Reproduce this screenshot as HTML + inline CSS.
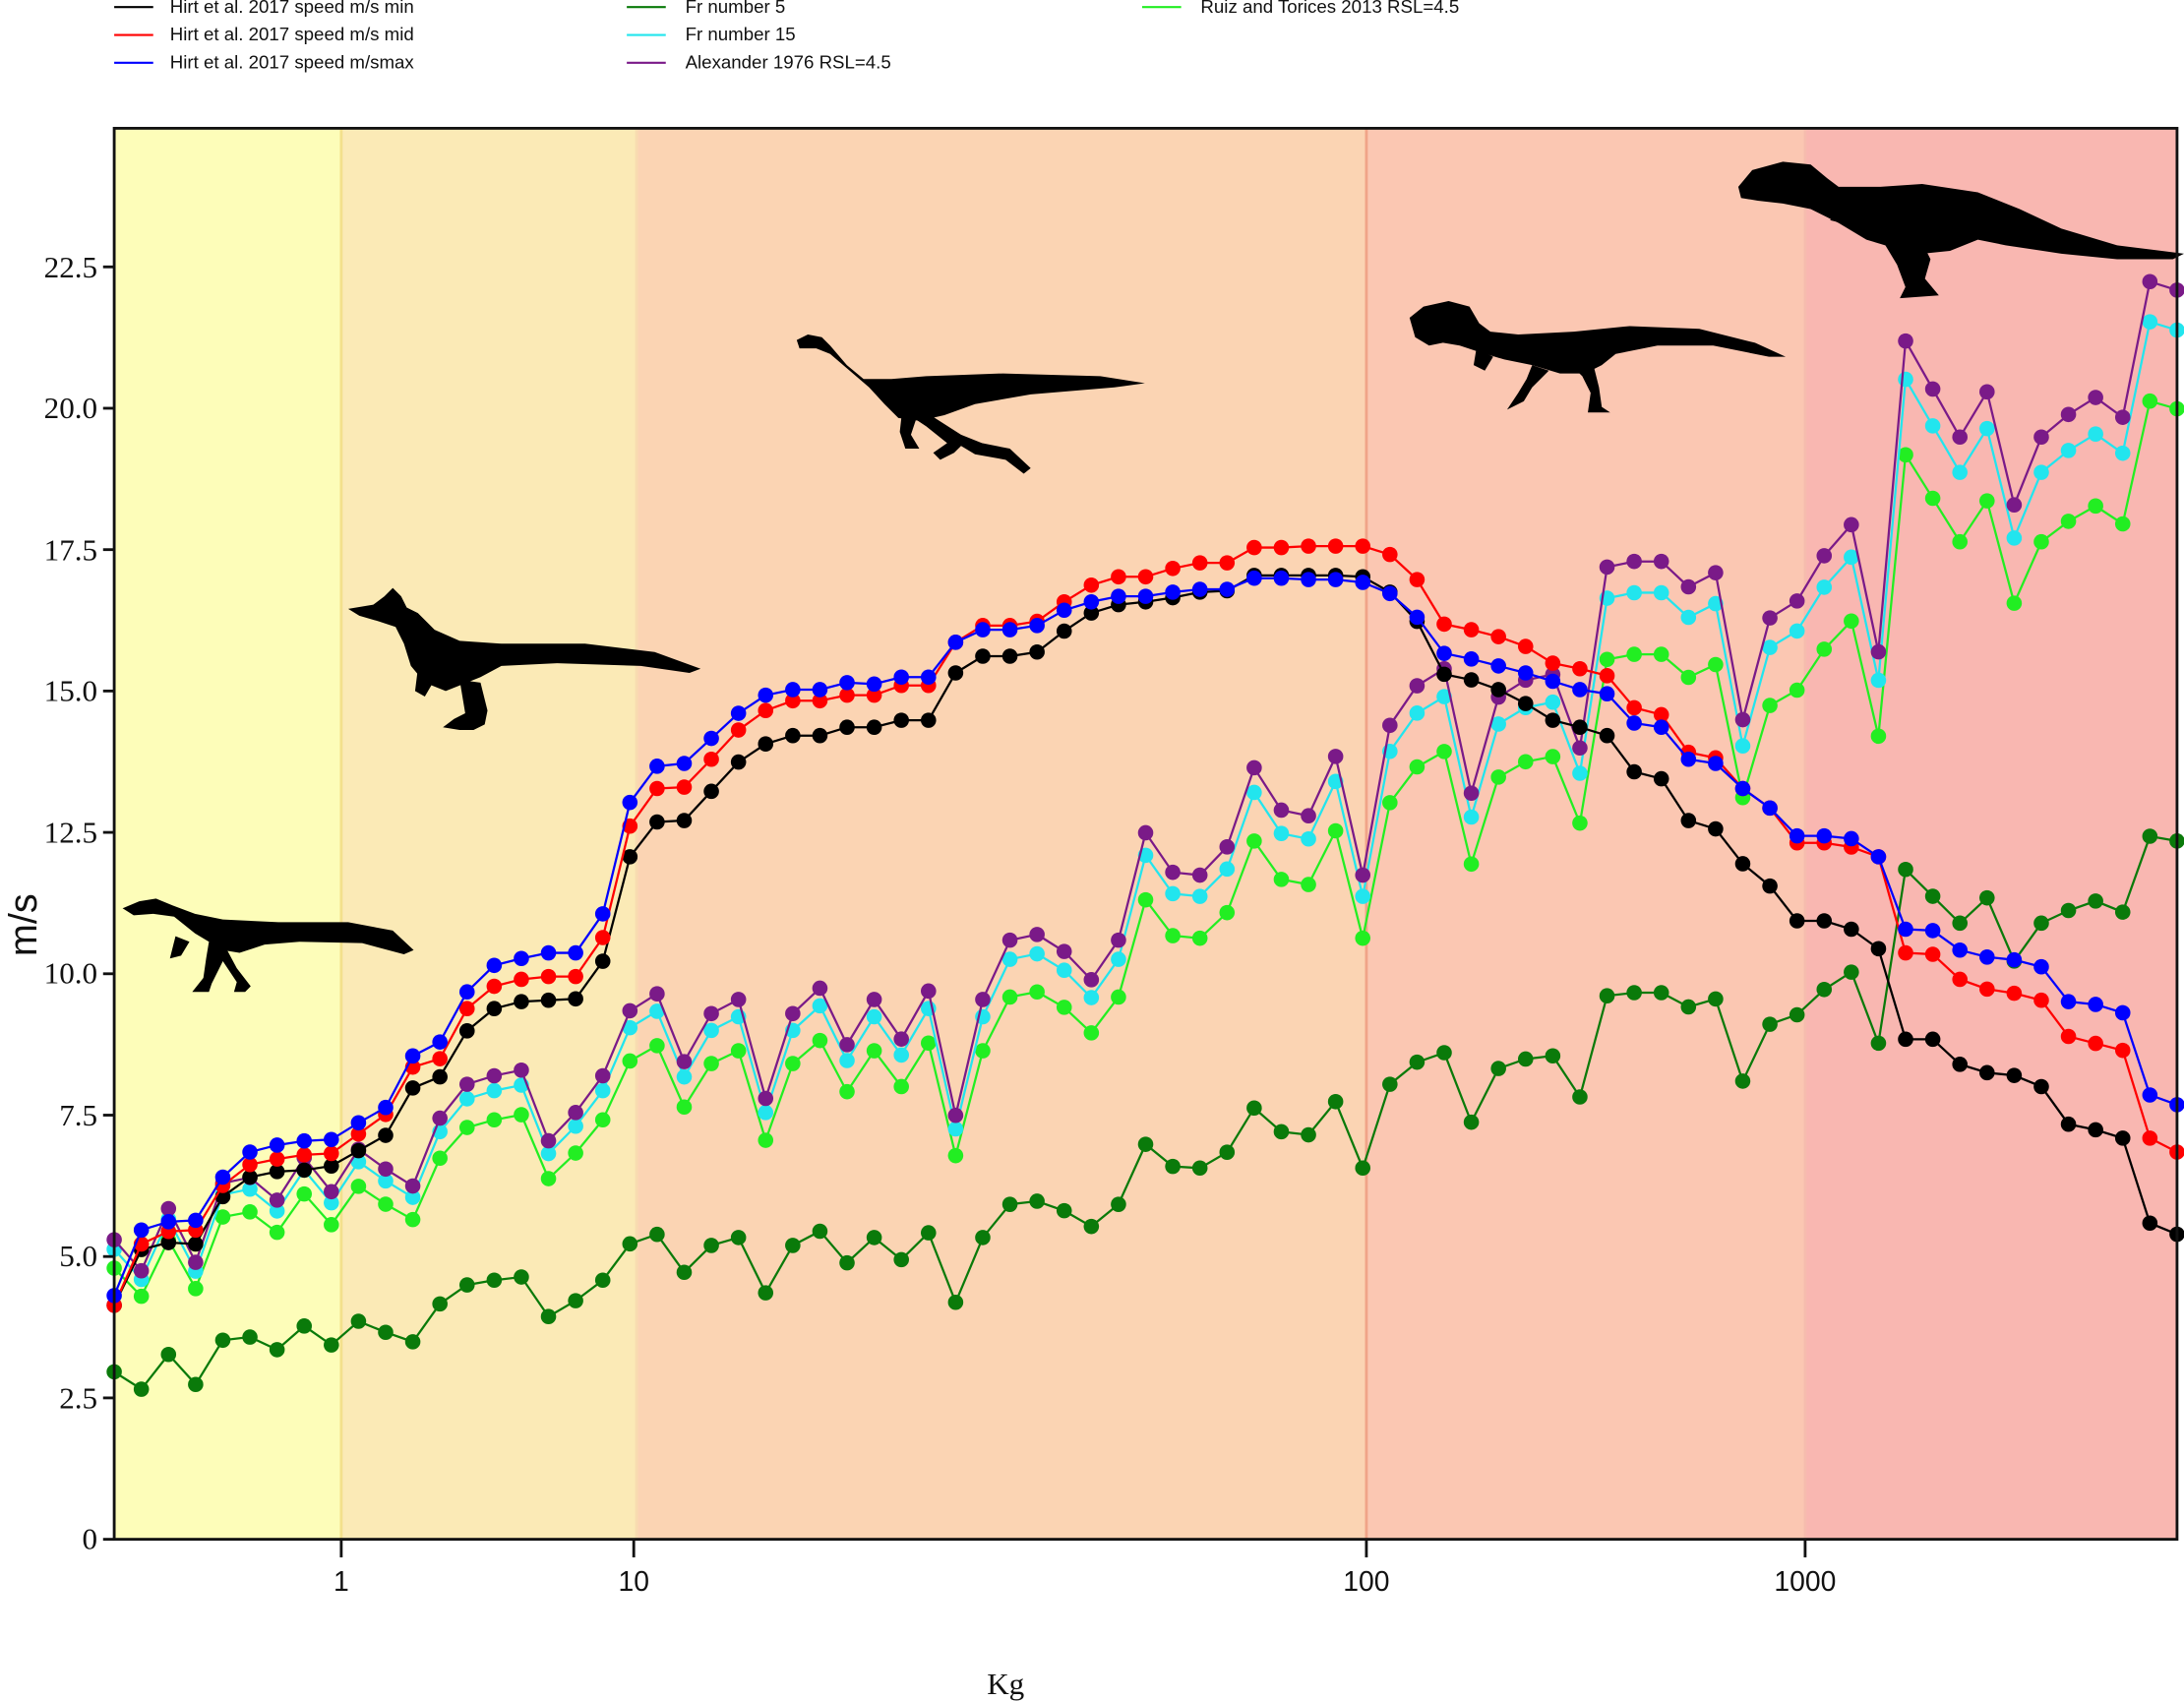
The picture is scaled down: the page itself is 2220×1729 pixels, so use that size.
<!DOCTYPE html>
<html><head><meta charset="utf-8"><style>
html,body{margin:0;padding:0;background:#fff}
svg{display:block}
</style></head><body>
<svg id="c" width="2220" height="1729" viewBox="0 0 1568 1221" xmlns="http://www.w3.org/2000/svg">
<rect x="0" y="0" width="1568" height="1221" fill="#fff"/>
<rect x="82" y="92" width="163" height="1013" fill="#fdfdb9"/>
<rect x="245" y="92" width="212" height="1013" fill="#fbeab6"/>
<rect x="457" y="92" width="524" height="1013" fill="#fbd4b3"/>
<rect x="981" y="92" width="315" height="1013" fill="#fbc7b2"/>
<rect x="1296" y="92" width="267" height="1013" fill="#f9b7b1"/>
<line x1="245" y1="92" x2="245" y2="1105" stroke="#f3e08c" stroke-width="2"/>
<line x1="457" y1="92" x2="457" y2="1105" stroke="#f8dcb0" stroke-width="2"/>
<line x1="981" y1="92" x2="981" y2="1105" stroke="#f0a488" stroke-width="2"/>
<line x1="1296" y1="92" x2="1296" y2="1105" stroke="#f6bcae" stroke-width="2"/>

<g fill="#000">
 <path d="M88,652 L100,647 L112,645 L124,650 L140,656 L160,660 L200,662 L250,662 L282,668 L297,682 L290,685 L260,677 L215,676 L190,678 L172,684 L160,682 L140,670 L125,658 L110,656 L96,657 Z"/>
 <path d="M150,676 L162,680 L170,695 L180,708 L176,712 L168,712 L170,705 L160,690 L152,706 L150,712 L138,712 L146,702 L148,688 Z"/>
 <path d="M126,672 L136,676 L130,686 L122,688 Z"/>
 <path d="M250,437 L268,434 L276,428 L282,422 L288,428 L292,436 L300,440 L312,452 L330,460 L360,462 L420,462 L470,468 L503,480 L495,483 L460,478 L400,476 L360,478 L345,486 L330,492 L320,496 L305,490 L295,478 L290,462 L284,450 L272,446 L258,442 Z"/>
 <path d="M330,488 L345,490 L350,510 L348,520 L340,524 L330,524 L318,522 L326,516 L334,512 L332,500 Z"/>
 <path d="M300,480 L312,488 L305,500 L298,496 Z"/>
 <path d="M572,244 L580,240 L590,242 L596,248 L608,262 L620,272 L640,272 L665,270 L720,268 L790,270 L822,275 L800,278 L740,283 L700,290 L678,298 L660,302 L645,300 L635,290 L624,278 L610,266 L596,254 L586,250 L574,250 Z"/>
 <path d="M650,296 L665,296 L690,312 L705,318 L725,322 L740,336 L735,340 L722,330 L700,326 L690,320 L685,325 L675,330 L670,325 L680,318 L665,306 Z"/>
 <path d="M648,292 L658,300 L654,312 L660,322 L650,322 L646,310 Z"/>
 <path d="M1012,228 L1022,220 L1040,216 L1055,220 L1062,232 L1070,238 L1090,240 L1130,238 L1170,234 L1220,236 L1260,246 L1282,256 L1270,256 L1230,248 L1190,248 L1160,254 L1150,262 L1138,268 L1120,268 L1100,262 L1080,258 L1060,252 L1048,248 L1036,246 L1026,248 L1016,242 Z"/>
 <path d="M1128,262 L1144,262 L1148,278 L1150,292 L1156,296 L1140,296 L1142,282 L1136,270 Z"/>
 <path d="M1100,262 L1112,266 L1100,278 L1094,288 L1082,294 L1090,282 L1096,272 Z"/>
 <path d="M1060,250 L1072,256 L1066,266 L1058,262 Z"/>
 <path d="M1248,134 L1258,122 L1280,116 L1300,118 L1312,128 L1320,134 L1350,134 L1380,132 L1420,138 L1450,150 L1480,164 L1520,176 L1568,182 L1560,186 L1520,186 L1480,182 L1440,176 L1420,172 L1400,180 L1380,182 L1360,178 L1340,172 L1320,160 L1300,150 L1280,146 L1262,144 L1250,142 Z"/>
 <path d="M1350,170 L1380,174 L1386,186 L1382,200 L1392,212 L1364,214 L1368,206 L1362,190 Z"/>
 <path d="M1318,150 L1326,154 L1322,160 L1314,158 Z"/>
</g>

<g id="series"></g>

<rect x="82" y="92" width="1481" height="1013" fill="none" stroke="#111" stroke-width="2"/>
<g stroke="#111" stroke-width="2">
 <line x1="74" y1="1105" x2="82" y2="1105"/>
 <line x1="74" y1="1003.5" x2="82" y2="1003.5"/>
 <line x1="74" y1="902" x2="82" y2="902"/>
 <line x1="74" y1="800.5" x2="82" y2="800.5"/>
 <line x1="74" y1="699" x2="82" y2="699"/>
 <line x1="74" y1="597.5" x2="82" y2="597.5"/>
 <line x1="74" y1="496" x2="82" y2="496"/>
 <line x1="74" y1="394.5" x2="82" y2="394.5"/>
 <line x1="74" y1="293" x2="82" y2="293"/>
 <line x1="74" y1="191.5" x2="82" y2="191.5"/>
 <line x1="245" y1="1105" x2="245" y2="1118"/>
 <line x1="455" y1="1105" x2="455" y2="1118"/>
 <line x1="981" y1="1105" x2="981" y2="1118"/>
 <line x1="1296" y1="1105" x2="1296" y2="1118"/>
</g>
<g font-family="Liberation Serif, serif" font-size="22" fill="#111" text-anchor="end">
 <text x="70" y="1112">0</text>
 <text x="70" y="1011">2.5</text>
 <text x="70" y="909">5.0</text>
 <text x="70" y="808">7.5</text>
 <text x="70" y="706">10.0</text>
 <text x="70" y="605">12.5</text>
 <text x="70" y="503">15.0</text>
 <text x="70" y="402">17.5</text>
 <text x="70" y="300">20.0</text>
 <text x="70" y="199">22.5</text>
</g>
<g font-family="Liberation Sans, sans-serif" font-size="20" fill="#111" text-anchor="middle">
 <text x="245" y="1142">1</text>
 <text x="455" y="1142">10</text>
 <text x="981" y="1142">100</text>
 <text x="1296" y="1142">1000</text>
</g>
<text x="722" y="1216" font-family="Liberation Serif, serif" font-size="22" text-anchor="middle" fill="#111">Kg</text>
<text transform="translate(26,664) rotate(-90)" font-family="Liberation Sans, sans-serif" font-size="28" text-anchor="middle" fill="#111">m/s</text>

<g font-family="Liberation Sans, sans-serif" font-size="13.2" fill="#111" stroke-width="1.5">
 <line x1="82" y1="5" x2="110" y2="5" stroke="#000"/><text x="122" y="9">Hirt et al. 2017 speed m/s min</text>
 <line x1="82" y1="25" x2="110" y2="25" stroke="#f00"/><text x="122" y="29">Hirt et al. 2017 speed m/s mid</text>
 <line x1="82" y1="45" x2="110" y2="45" stroke="#00f"/><text x="122" y="49">Hirt et al. 2017 speed m/smax</text>
 <line x1="450" y1="5" x2="478" y2="5" stroke="#0a7a0a"/><text x="492" y="9">Fr number 5</text>
 <line x1="450" y1="25" x2="478" y2="25" stroke="#22e5ee"/><text x="492" y="29">Fr number 15</text>
 <line x1="450" y1="45" x2="478" y2="45" stroke="#7a1a88"/><text x="492" y="49">Alexander 1976 RSL=4.5</text>
 <line x1="820" y1="5" x2="848" y2="5" stroke="#22ee22"/><text x="862" y="9">Ruiz and Torices 2013 RSL=4.5</text>
</g>
</svg>
<script>
(function(){
var NS="http://www.w3.org/2000/svg";
var g=document.getElementById("series");
var P=[5.3,4.75,5.85,4.9,6.3,6.4,6.0,6.75,6.15,6.9,6.55,6.25,7.45,8.05,8.2,8.3,7.05,7.55,8.2,9.35,9.65,8.45,9.3,9.55,7.8,9.3,9.75,8.75,9.55,8.85,9.7,7.5,9.55,10.6,10.7,10.4,9.9,10.6,12.5,11.8,11.75,12.25,13.65,12.9,12.8,13.85,11.75,14.4,15.1,15.4,13.2,14.9,15.2,15.3,14.0,17.2,17.3,17.3,16.85,17.1,14.5,16.3,16.6,17.4,17.95,15.7,21.2,20.35,19.5,20.3,18.3,19.5,19.9,20.2,19.85,22.25,22.1];
var BK=[937,897,892,893,859,845,841,840,837,826,815,781,773,740,724,719,718,717,690,615,590,589,568,547,534,528,528,522,522,517,517,483,471,471,468,453,440,434,432,429,425,424,413,413,413,413,414,425,446,484,488,495,505,517,522,528,554,559,589,595,620,636,661,661,667,681,746,746,764,770,772,780,807,811,817,878,886];
var RD=[937,893,884,883,851,836,832,829,828,814,800,766,760,724,708,703,701,701,673,593,566,565,545,524,510,503,503,499,499,492,492,461,449,449,446,432,420,414,414,408,404,404,393,393,392,392,392,398,416,448,452,457,464,476,480,485,508,513,540,544,566,580,605,605,608,615,684,685,703,710,713,718,744,749,754,817,827];
var BL=[930,883,877,876,845,827,822,819,818,806,795,758,748,712,693,688,684,684,656,576,550,548,530,512,499,495,495,490,491,486,486,461,452,452,449,438,432,428,428,425,423,423,415,415,416,416,418,426,443,469,473,478,483,489,495,498,519,522,545,548,566,580,600,600,602,615,667,668,682,687,689,694,719,721,727,786,793];
function yv(v){return 1105-v*40.58;}
function X(i){return 82+i*1481/76;}
function draw(ys,col){
 var d="";
 for(var i=0;i<ys.length;i++){d+=(i?"L":"M")+X(i).toFixed(1)+","+ys[i].toFixed(1);}
 var p=document.createElementNS(NS,"path");
 p.setAttribute("d",d);p.setAttribute("fill","none");p.setAttribute("stroke",col);p.setAttribute("stroke-width","1.6");
 g.appendChild(p);
 for(var i=0;i<ys.length;i++){
  var c=document.createElementNS(NS,"circle");
  c.setAttribute("cx",X(i));c.setAttribute("cy",ys[i]);c.setAttribute("r","5.5");c.setAttribute("fill",col);
  g.appendChild(c);
 }
}
function scaled(f){return P.map(function(v){return yv(v*f);});}
draw(scaled(0.559),"#0a7a0a");
draw(scaled(0.905),"#22ee22");
draw(scaled(0.968),"#22e5ee");
draw(scaled(1),"#7a1a88");
draw(BK,"#000");
draw(RD,"#f00");
draw(BL,"#00f");
})();
</script>
</body></html>
